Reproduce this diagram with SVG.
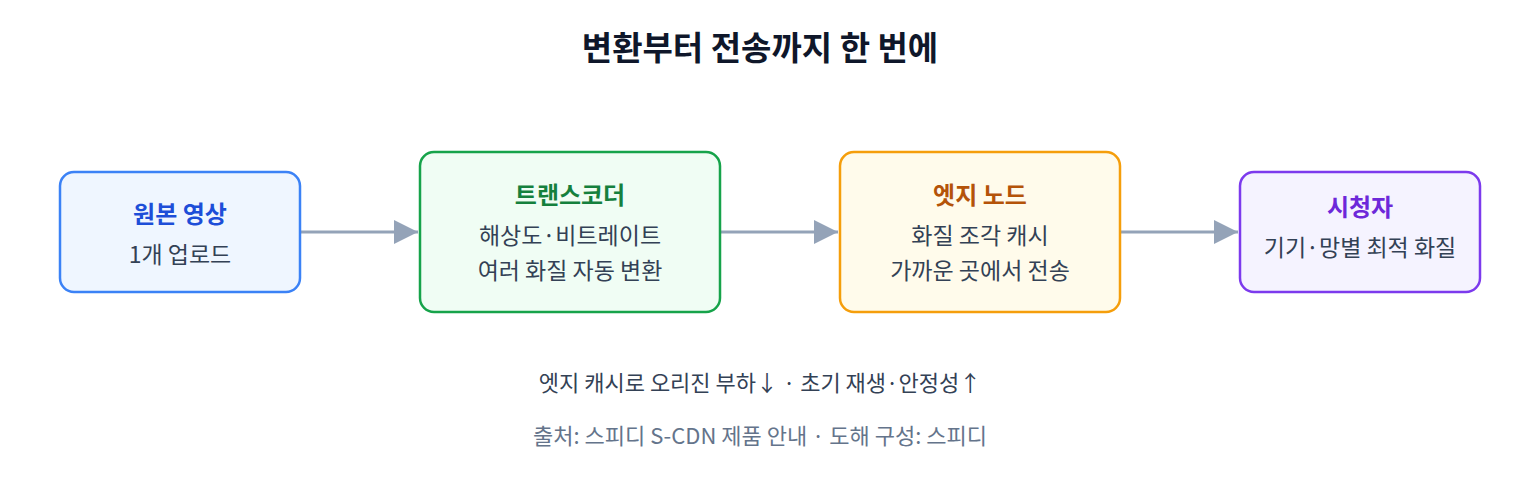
<svg xmlns="http://www.w3.org/2000/svg" width="1520" height="480" viewBox="0 0 1520 480">
<style>
text{font-family:"Noto Sans CJK KR","Noto Sans",sans-serif;text-anchor:middle}
.t{font-size:24px;font-weight:700}
.s{font-size:23px;fill:#334155}
.e{stroke:#94a3b8;stroke-width:3;fill:none}
</style>
<defs><marker id="m" viewBox="0 0 10 10" refX="10" refY="5" markerWidth="24" markerHeight="24" markerUnits="userSpaceOnUse" orient="auto"><path d="M0 0L10 5L0 10z" fill="#94a3b8"/></marker></defs>
<rect width="1520" height="480" fill="#fff"/>
<text x="760" y="60" style="font-size:33px;font-weight:700;fill:#0f172a">변환부터 전송까지 한 번에</text>
<g id="connectors">
<line class="e" x1="301" y1="232" x2="418" y2="232" marker-end="url(#m)"/>
<line class="e" x1="721" y1="232" x2="838" y2="232" marker-end="url(#m)"/>
<line class="e" x1="1121" y1="232" x2="1238" y2="232" marker-end="url(#m)"/>
</g>
<g id="n1"><rect x="60" y="172" width="240" height="120" rx="14" fill="#eff6ff" stroke="#3b82f6" stroke-width="2.5"/>
<text class="t" x="180" y="223" fill="#1d4ed8">원본 영상</text><text class="s" x="180" y="263">1개 업로드</text></g>
<g id="n2"><rect x="420" y="152" width="300" height="160" rx="14" fill="#f0fdf4" stroke="#16a34a" stroke-width="2.5"/>
<text class="t" x="570" y="204" fill="#15803d">트랜스코더</text><text class="s" x="570" y="244">해상도·비트레이트</text><text class="s" x="570" y="279">여러 화질 자동 변환</text></g>
<g id="n3"><rect x="840" y="152" width="280" height="160" rx="14" fill="#fffbeb" stroke="#f59e0b" stroke-width="2.5"/>
<text class="t" x="980" y="204" fill="#b45309">엣지 노드</text><text class="s" x="980" y="244">화질 조각 캐시</text><text class="s" x="980" y="279">가까운 곳에서 전송</text></g>
<g id="n4"><rect x="1240" y="172" width="240" height="120" rx="14" fill="#f5f3ff" stroke="#7c3aed" stroke-width="2.5"/>
<text class="t" x="1360" y="216" fill="#6d28d9">시청자</text><text class="s" x="1360" y="256">기기·망별 최적 화질</text></g>
<text x="760" y="391" style="font-size:22px;fill:#334155">엣지 캐시로 오리진 부하↓ · 초기 재생·안정성↑</text>
<text x="760" y="444" style="font-size:22px;fill:#64748b">출처: 스피디 S-CDN 제품 안내 · 도해 구성: 스피디</text>
</svg>
